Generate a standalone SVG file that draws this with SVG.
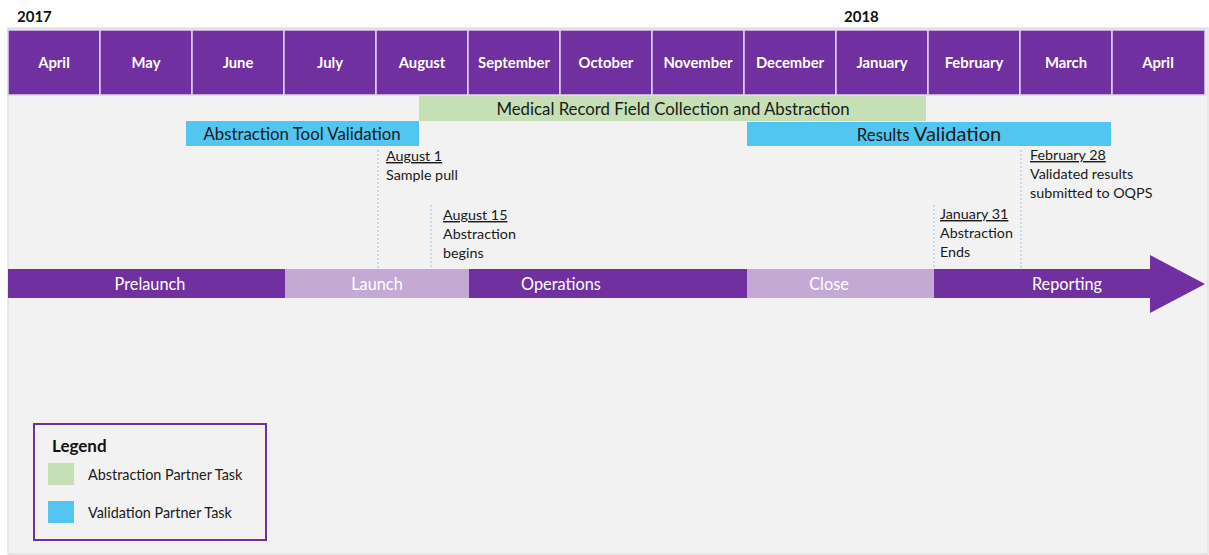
<svg xmlns="http://www.w3.org/2000/svg" width="1209" height="555" viewBox="0 0 1209 555">
<style>
.month{fill:#7030A0;stroke:#E2D2EE;stroke-width:1.5}
.mt{font-family:Lato,"Liberation Sans",sans-serif;font-weight:bold;font-size:14.8px;fill:#fff;text-anchor:middle}
.yr{font-family:Lato,"Liberation Sans",sans-serif;font-weight:bold;font-size:15px;fill:#111}
.bar{font-family:Lato,"Liberation Sans",sans-serif;font-size:16.8px;fill:#1a1a1a;text-anchor:middle}
.ph{font-family:Lato,"Liberation Sans",sans-serif;font-size:16.3px;fill:#fff;text-anchor:middle}
.ms{font-family:Lato,"Liberation Sans",sans-serif;font-size:14.3px;fill:#1a1a1a}
.u{text-decoration:underline}
.dot{stroke:#9DC3E6;stroke-width:1;stroke-dasharray:2 2;fill:none}
.dark{fill:#7030A0}
.light{fill:#C3A9D4}
.green{fill:#C5E0B4}
.blue{fill:#52C5F0}
.lg{font-family:Lato,"Liberation Sans",sans-serif;font-size:14.4px;fill:#1a1a1a}
.lgt{font-family:Lato,"Liberation Sans",sans-serif;font-size:17px;font-weight:bold;fill:#111}
</style>
<rect width="1209" height="555" fill="#fff"/>
<rect x="8" y="28" width="1200" height="526" fill="#F2F2F2" stroke="#D4D4D4" stroke-width="1"/>
<text class="yr" x="17" y="22">2017</text>
<text class="yr" x="844" y="22">2018</text>
<g id="months">
<rect class="month" x="8" y="30" width="92" height="65"/><text class="mt" x="54" y="68">April</text>
<rect class="month" x="100" y="30" width="92" height="65"/><text class="mt" x="146" y="68">May</text>
<rect class="month" x="192" y="30" width="92" height="65"/><text class="mt" x="238" y="68">June</text>
<rect class="month" x="284" y="30" width="92" height="65"/><text class="mt" x="330" y="68">July</text>
<rect class="month" x="376" y="30" width="92" height="65"/><text class="mt" x="422" y="68">August</text>
<rect class="month" x="468" y="30" width="92" height="65"/><text class="mt" x="514" y="68">September</text>
<rect class="month" x="560" y="30" width="92" height="65"/><text class="mt" x="606" y="68">October</text>
<rect class="month" x="652" y="30" width="92" height="65"/><text class="mt" x="698" y="68">November</text>
<rect class="month" x="744" y="30" width="92" height="65"/><text class="mt" x="790" y="68">December</text>
<rect class="month" x="836" y="30" width="92" height="65"/><text class="mt" x="882" y="68">January</text>
<rect class="month" x="928" y="30" width="92" height="65"/><text class="mt" x="974" y="68">February</text>
<rect class="month" x="1020" y="30" width="92" height="65"/><text class="mt" x="1066" y="68">March</text>
<rect class="month" x="1112" y="30" width="93" height="65"/><text class="mt" x="1158" y="68">April</text>
</g>
<g id="task-medical">
<rect class="green" x="419" y="96" width="507" height="25"/>
<text class="bar" x="673" y="114.5">Medical Record Field Collection and Abstraction</text>
</g>
<g id="task-tool">
<rect class="blue" x="186" y="121" width="233" height="25"/>
<text class="bar" x="302" y="139.5">Abstraction Tool Validation</text>
</g>
<g id="task-results">
<rect class="blue" x="747" y="122" width="364" height="24"/>
<text class="bar" x="929" y="140.5">Results <tspan style="font-size:20px">Validation</tspan></text>
</g>
<g id="connectors">
<line class="dot" x1="378" y1="150" x2="378" y2="268"/>
<line class="dot" x1="431" y1="205" x2="431" y2="268"/>
<line class="dot" x1="934" y1="205" x2="934" y2="268"/>
<line class="dot" x1="1021" y1="150" x2="1021" y2="268"/>
</g>
<g id="milestone-aug1">
<text class="ms u" x="386" y="161">August 1</text>
<text class="ms" x="386" y="180">Sample pull</text>
</g>
<g id="milestone-aug15">
<text class="ms u" x="443" y="220">August 15</text>
<text class="ms" x="443" y="239">Abstraction</text>
<text class="ms" x="443" y="258">begins</text>
</g>
<g id="milestone-jan31">
<text class="ms u" x="940" y="219">January 31</text>
<text class="ms" x="940" y="238">Abstraction</text>
<text class="ms" x="940" y="257">Ends</text>
</g>
<g id="milestone-feb28">
<text class="ms u" x="1030" y="160">February 28</text>
<text class="ms" x="1030" y="179">Validated results</text>
<text class="ms" x="1030" y="198">submitted to OQPS</text>
</g>
<g id="phases">
<polygon class="dark" points="934,269 1150,269 1150,255 1205,284 1150,313 1150,298 934,298"/>
<rect class="dark" x="8" y="269" width="277" height="29"/>
<rect class="light" x="285" y="269" width="184" height="29"/>
<rect class="dark" x="469" y="269" width="278" height="29"/>
<rect class="light" x="747" y="269" width="187" height="29"/>
<text class="ph" x="150" y="289.5">Prelaunch</text>
<text class="ph" x="377" y="289.5">Launch</text>
<text class="ph" x="561" y="289.5">Operations</text>
<text class="ph" x="829" y="289.5">Close</text>
<text class="ph" x="1067" y="289.5">Reporting</text>
</g>
<g id="legend">
<rect x="34" y="424" width="232" height="116" fill="none" stroke="#7030A0" stroke-width="2"/>
<text class="lgt" x="52" y="452">Legend</text>
<rect class="green" x="48" y="463" width="26" height="22"/>
<text class="lg" x="88" y="480">Abstraction Partner Task</text>
<rect class="blue" x="48" y="501" width="26" height="22"/>
<text class="lg" x="88" y="518">Validation Partner Task</text>
</g>
</svg>
